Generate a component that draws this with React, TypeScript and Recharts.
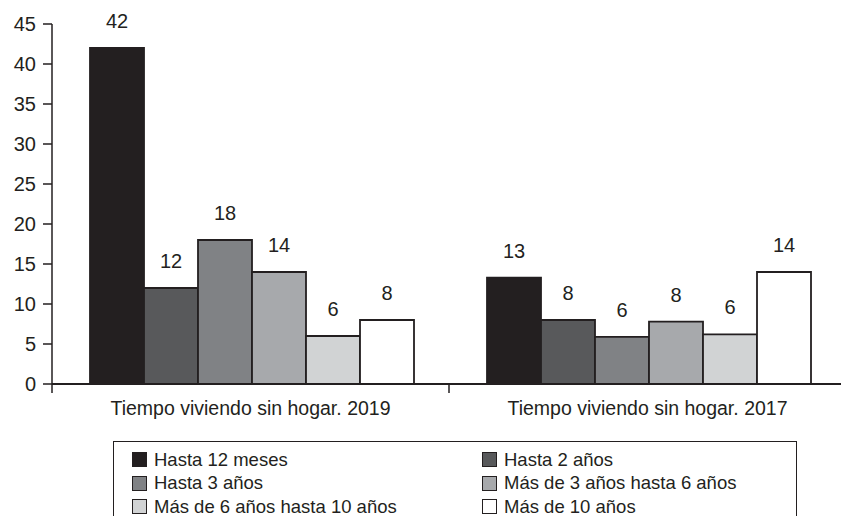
import React from 'react';
import { BarChart, Bar, XAxis, YAxis, LabelList, Legend } from 'recharts';

const categories = ['Tiempo viviendo sin hogar. 2019', 'Tiempo viviendo sin hogar. 2017'];
const seriesNames = [
  'Hasta 12 meses',
  'Hasta 2 años',
  'Hasta 3 años',
  'Más de 3 años hasta 6 años',
  'Más de 6 años hasta 10 años',
  'Más de 10 años',
];
const seriesColors = ['#231f20', '#58595b', '#808285', '#a7a9ac', '#d1d3d4', '#ffffff'];

const hasta12Meses = [42, 13.3];
const hasta2Anos = [12, 8];
const hasta3Anos = [18, 5.9];
const de3a6Anos = [14, 7.8];
const de6a10Anos = [6, 6.2];
const mas10Anos = [8, 14];

const yTicks = [0, 5, 10, 15, 20, 25, 30, 35, 40, 45];
const boundaryTicks = [0, 1, 2];

const seriesValues = [hasta12Meses, hasta2Anos, hasta3Anos, de3a6Anos, de6a10Anos, mas10Anos];
const keys = ['s0', 's1', 's2', 's3', 's4', 's5'];

const data = categories.map((c, i) => {
  const row: Record<string, any> = { category: c, pos: i + 0.5 };
  keys.forEach((k, j) => {
    row[k] = seriesValues[j][i];
  });
  return row;
});

const INK = '#231f20';
const FONT = '"Liberation Sans", Arial, sans-serif';

const renderLegend = () => (
  <div
    style={{
      boxSizing: 'border-box',
      width: 684,
      height: 85,
      border: `1.5px solid ${INK}`,
      padding: '6px 0 0 18px',
      display: 'grid',
      gridTemplateColumns: '350px 300px',
      gridAutoRows: '23.5px',
      fontFamily: FONT,
      fontSize: 18.5,
      color: INK,
    }}
  >
    {seriesNames.map((n, i) => (
      <div key={n} style={{ display: 'flex', alignItems: 'center', whiteSpace: 'nowrap' }}>
        <span
          style={{
            display: 'inline-block',
            boxSizing: 'border-box',
            width: 15,
            height: 15,
            background: seriesColors[i],
            border: `1.5px solid ${INK}`,
            marginRight: 7,
          }}
        />
        {n}
      </div>
    ))}
  </div>
);

const EmptyTick = () => <g />;

export default function App() {
  return (
    <div style={{ position: 'absolute', left: 0, top: 0, width: 841, height: 516, overflow: 'hidden', background: '#fff' }}>
      <BarChart
        width={850}
        height={530}
        data={data}
        margin={{ top: 24, right: 4, bottom: 20, left: 0 }}
        barCategoryGap={38}
        barGap={0}
      >
        <XAxis
          xAxisId="a"
          dataKey="pos"
          type="number"
          orientation="bottom"
          domain={[0, 2]}
          ticks={boundaryTicks}
          interval={0}
          height={1}
          axisLine={{ stroke: INK, strokeWidth: 2 }}
          tickSize={9}
          tickLine={{ stroke: INK, strokeWidth: 1.5 }}
          tick={EmptyTick}
        />
        <XAxis
          xAxisId="z"
          dataKey="category"
          height={40}
          axisLine={false}
          tickLine={false}
          tickSize={0}
          tickMargin={16}
          tick={{ fill: INK, fontSize: 19.5, fontFamily: FONT }}
        />
        <YAxis
          width={52}
          domain={[0, 45]}
          ticks={yTicks}
          interval={0}
          axisLine={{ stroke: INK, strokeWidth: 1.5 }}
          tickLine={{ stroke: INK, strokeWidth: 1.5 }}
          tickSize={9}
          tickMargin={7}
          tick={{ fill: INK, fontSize: 20, fontFamily: FONT }}
        />
        <Legend
          content={renderLegend}
          wrapperStyle={{ left: 113, top: 441, width: 684, height: 85 }}
        />
        {keys.map((k, j) => (
          <Bar
            key={k}
            xAxisId="z"
            dataKey={k}
            name={seriesNames[j]}
            fill={seriesColors[j]}
            stroke={INK}
            strokeWidth={1.8}
            isAnimationActive={false}
          >
            <LabelList
              dataKey={k}
              position="top"
              offset={20}
              formatter={(v: any) => Math.round(Number(v))}
              style={{ fill: INK, fontSize: 20, fontFamily: FONT }}
            />
          </Bar>
        ))}
      </BarChart>
    </div>
  );
}
